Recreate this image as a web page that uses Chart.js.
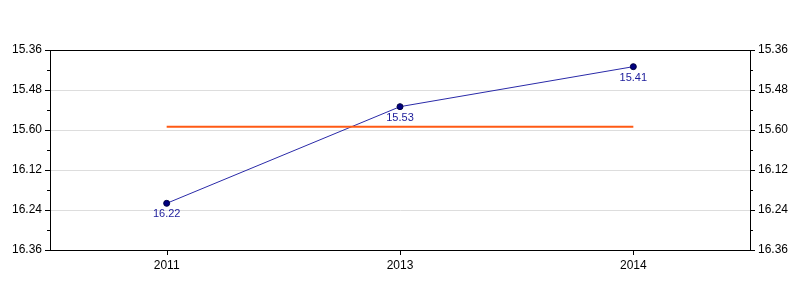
<!DOCTYPE html>
<html>
<head>
<meta charset="utf-8">
<script src="https://cdn.jsdelivr.net/npm/chart.js@4"></script>
<style>
  body { margin: 0; background: #fff; }
  #wrap { width: 800px; height: 300px; }
</style>
</head>
<body>
<div id="wrap"><canvas id="myChart"></canvas></div>
<script>
// times shown as min.sec
var years = ['2011', '2013', '2014'];
var times = [16.22, 15.53, 15.41];
var target = [15.59, 15.59, 15.59];
var yTickLabels = ['15.36', '15.48', '15.60', '16.12', '16.24', '16.36'];
var yMin = 15.36, yMax = 16.36;

function toSec(v) {
    var m = Math.floor(v);
    return m * 60 + Math.round((v - m) * 100);
}

var minSec = toSec(yMin), maxSec = toSec(yMax);
var majorStep = (maxSec - minSec) / (yTickLabels.length - 1);

function isMajor(val) {
    return Math.abs((val - minSec) % majorStep) < 0.01;
}

var yAxis = function (pos) {
    return {
        type: 'linear',
        position: pos,
        reverse: true,
        min: minSec,
        max: maxSec,
        afterFit: function (s) { s.width = 50; },
        afterBuildTicks: function (s) {
            var t = [];
            for (var v = minSec; v <= maxSec + 0.01; v += majorStep / 2) t.push({ value: v });
            s.ticks = t;
        },
        ticks: {
            padding: 8,
            color: '#000',
            font: { size: 12 },
            autoSkip: false,
            callback: function (val) {
                if (!isMajor(val)) return '';
                return yTickLabels[Math.round((val - minSec) / majorStep)];
            }
        },
        grid: {
            drawTicks: false,
            display: pos === 'left',
            color: function (c) {
                var v = c.tick.value;
                if (!isMajor(v) || v === minSec || v === maxSec) return 'rgba(0,0,0,0)';
                return '#dddddd';
            }
        },
        border: { display: true, color: '#000' }
    };
};

// tick marks (major + minor), frame and point labels
var frame = {
    id: 'frame',
    afterDraw: function (chart) {
        var ctx = chart.ctx, a = chart.chartArea;
        ctx.save();
        ctx.strokeStyle = '#000';
        ctx.lineWidth = 1;
        ctx.strokeRect(Math.round(a.left) + 0.5, Math.round(a.top) + 0.5,
            Math.round(a.right - a.left), Math.round(a.bottom - a.top));
        ['y', 'y2'].forEach(function (id) {
            var s = chart.scales[id];
            s.ticks.forEach(function (t) {
                var y = Math.round(s.getPixelForValue(t.value)) + 0.5;
                var len = isMajor(t.value) ? 5 : 3;
                var x = id === 'y' ? a.left : a.right;
                ctx.beginPath();
                if (id === 'y') { ctx.moveTo(x - len, y); ctx.lineTo(x, y); }
                else { ctx.moveTo(x, y); ctx.lineTo(x + len, y); }
                ctx.stroke();
            });
        });
        var xs = chart.scales.x;
        years.forEach(function (yr, i) {
            var x = Math.round(xs.getPixelForValue(i)) + 0.5;
            ctx.beginPath();
            ctx.moveTo(x, a.bottom);
            ctx.lineTo(x, a.bottom + 5);
            ctx.stroke();
        });
        var meta = chart.getDatasetMeta(1);
        ctx.fillStyle = '#1a1a9a';
        ctx.font = '11px "Liberation Sans", Arial, sans-serif';
        ctx.textAlign = 'center';
        ctx.textBaseline = 'middle';
        meta.data.forEach(function (p, i) {
            ctx.fillText(times[i].toFixed(2), p.x, p.y + 11);
        });
        ctx.restore();
    }
};

var ctx = document.getElementById('myChart').getContext('2d');
Chart.defaults.font.family = '"Liberation Sans", Arial, sans-serif';
var myChart = new Chart(ctx, {
    type: 'line',
    data: {
        labels: years,
        datasets: [{
            data: target.map(toSec),
            borderColor: '#ff5a14',
            borderWidth: 2,
            pointRadius: 0,
            yAxisID: 'y'
        }, {
            data: times.map(toSec),
            borderColor: '#2a2aa8',
            borderWidth: 1,
            pointRadius: 3,
            pointBackgroundColor: '#000080',
            pointBorderColor: '#000040',
            pointBorderWidth: 1,
            yAxisID: 'y'
        }]
    },
    options: {
        responsive: true,
        maintainAspectRatio: false,
        animation: false,
        layout: { padding: { top: 50, left: 0, right: 0, bottom: 0 } },
        plugins: { legend: { display: false }, tooltip: { enabled: false } },
        scales: {
            x: {
                offset: true,
                afterFit: function (s) { s.height = 50; },
                ticks: { padding: 8, color: '#000', font: { size: 12 } },
                grid: { display: false, drawTicks: false },
                border: { display: true, color: '#000' }
            },
            y: yAxis('left'),
            y2: yAxis('right')
        }
    },
    plugins: [frame]
});
</script>
</body>
</html>
